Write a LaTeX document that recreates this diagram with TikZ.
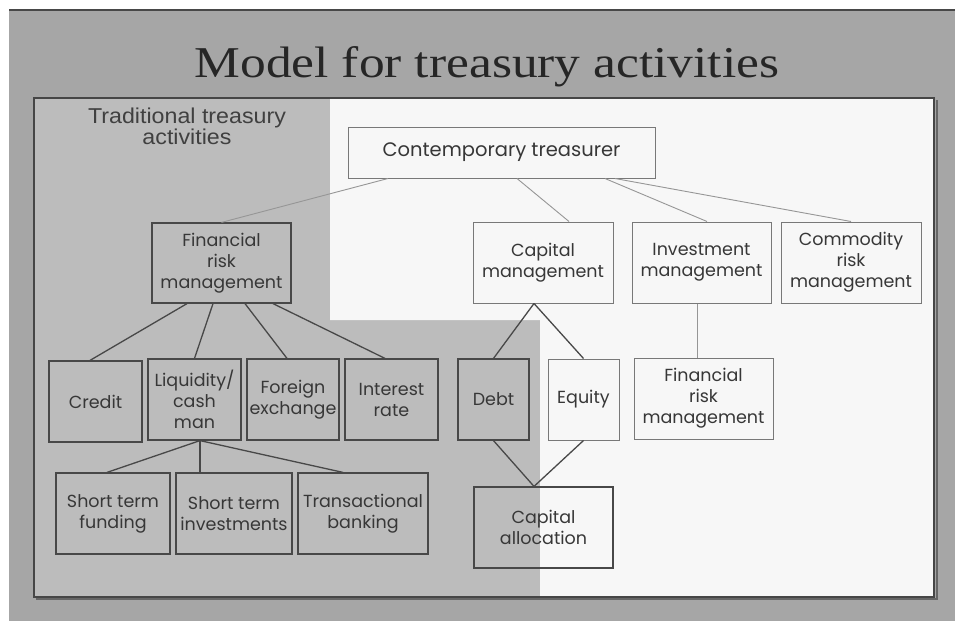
\documentclass[tikz,border=0pt]{standalone}
\usepackage{fontspec}
\newfontfamily\boxfont{Poppins}
\newfontfamily\labfont{Liberation Sans}
\newfontfamily\titlefont{Liberation Serif}
\definecolor{pagegray}{RGB}{166,166,166}
\definecolor{regiongray}{RGB}{188,188,188}
\definecolor{regionwhite}{RGB}{247,247,247}
\definecolor{framecol}{RGB}{70,70,70}
\definecolor{darkline}{RGB}{72,72,72}
\definecolor{lightline}{RGB}{150,150,150}
\definecolor{txt}{RGB}{55,55,55}
\tikzset{
  tbox/.style={draw=darkline, line width=1.2pt, inner sep=0pt, align=center,
    font=\boxfont\fontsize{17.5}{21}\selectfont, text=txt},
  wbox/.style={tbox, draw=lightline!80!black, line width=1pt},
  dconn/.style={draw=darkline, line width=1.3pt},
  lconn/.style={draw=lightline, line width=0.9pt},
}
\begin{document}
\begin{tikzpicture}[x=1pt,y=-1pt]
\useasboundingbox (0,0) rectangle (955,621);
% page
\fill[white] (0,0) rectangle (955,621);
\fill[pagegray] (9,9) rectangle (955,621);
\draw[darkline, line width=1.5pt] (9,10) -- (955,10);
% regions inside frame
\fill[regiongray] (34,98) -- (330,98) -- (330,320) -- (540,320) -- (540,597) -- (34,597) -- cycle;
\fill[regionwhite] (330,98) -- (934,98) -- (934,597) -- (540,597) -- (540,320) -- (330,320) -- cycle;
\draw[black!60, line width=2.5pt] (937,100) -- (937,599) -- (36,599);
\draw[framecol, line width=1.6pt] (34,98) rectangle (934,597);
% title
\node[anchor=base, font=\titlefont\fontsize{44}{44}\selectfont, text=black!85] (title) at (487,77) {\scalebox{1.17}[1]{Model for treasury activities}};
\node[font=\labfont\fontsize{21.5}{20}\selectfont, align=center, text=black!75] (trad) at (187,126) {\scalebox{1.08}[1]{Traditional treasury}\\\scalebox{1.08}[1]{activities}};
% nodes
\node[wbox, minimum width=307pt, minimum height=51pt, font=\boxfont\fontsize{19.5}{21}\selectfont] (ct) at (501.5,152.5) {Contemporary treasurer};
\node[tbox, minimum width=139pt, minimum height=80pt] (frmL) at (221.5,263) {Financial\\risk\\management};
\node[wbox, minimum width=140pt, minimum height=81pt] (cm) at (543,262.5) {Capital\\management};
\node[wbox, minimum width=139pt, minimum height=81pt] (im) at (701.5,262.5) {Investment\\management};
\node[wbox, minimum width=140pt, minimum height=81pt] (crm) at (851,262.5) {Commodity\\risk\\management};
\node[tbox, minimum width=93pt, minimum height=81pt] (credit) at (95.5,401.5) {Credit};
\node[tbox, minimum width=93pt, minimum height=81pt] (liq) at (194.5,399.5) {Liquidity/\\cash\\man};
\node[tbox, minimum width=92pt, minimum height=81pt] (fx) at (293,399.5) {Foreign\\exchange};
\node[tbox, minimum width=93pt, minimum height=81pt] (ir) at (391.5,399.5) {Interest\\rate};
\node[tbox, minimum width=71pt, minimum height=81pt] (debt) at (493.5,399.5) {Debt};
\node[wbox, minimum width=71pt, minimum height=81pt] (eq) at (583.5,399.5) {Equity};
\node[wbox, minimum width=139pt, minimum height=81pt] (frmR) at (703.5,398.5) {Financial\\risk\\management};
\node[tbox, minimum width=114pt, minimum height=81pt] (stf) at (113,513.5) {Short term\\funding};
\node[tbox, minimum width=116pt, minimum height=81pt] (sti) at (234,513.5) {Short term\\investments};
\node[tbox, minimum width=130pt, minimum height=81pt] (tb) at (363,513.5) {Transactional\\banking};
\node[tbox, minimum width=139pt, minimum height=81pt] (ca) at (543.5,527.5) {Capital\\allocation};
% connectors from contemporary treasurer
\draw[lconn] ([xshift=-113.5pt]ct.south) -- (frmL.north);
\draw[lconn] ([xshift=15.5pt]ct.south) -- ([xshift=26pt]cm.north);
\draw[lconn] ([xshift=103.5pt]ct.south) -- ([xshift=5.5pt]im.north);
\draw[lconn] ([xshift=113.5pt]ct.south) -- (crm.north);
\draw[lconn] ([xshift=-4.5pt]im.south) -- ([xshift=-6.5pt]frmR.north);
% financial risk (left)
\draw[dconn] ([xshift=-34.5pt]frmL.south) -- ([xshift=-5.5pt]credit.north);
\draw[dconn] ([xshift=-8.5pt]frmL.south) -- (liq.north);
\draw[dconn] ([xshift=23.5pt]frmL.south) -- ([xshift=-6pt]fx.north);
\draw[dconn] ([xshift=51.5pt]frmL.south) -- ([xshift=-6.5pt]ir.north);
% liquidity
\draw[dconn] ([xshift=5.5pt]liq.south) -- ([xshift=-6pt]stf.north);
\draw[dconn] ([xshift=5.5pt]liq.south) -- ([xshift=-34pt]sti.north);
\draw[dconn] ([xshift=5.5pt]liq.south) -- ([xshift=-20pt]tb.north);
% capital management
\draw[dconn] ([xshift=-9pt]cm.south) -- (debt.north);
\draw[dconn] ([xshift=-9pt]cm.south) -- (eq.north);
\draw[dconn] (debt.south) -- ([xshift=-9.5pt]ca.north);
\draw[dconn] (eq.south) -- ([xshift=-9.5pt]ca.north);
\end{tikzpicture}
\end{document}
